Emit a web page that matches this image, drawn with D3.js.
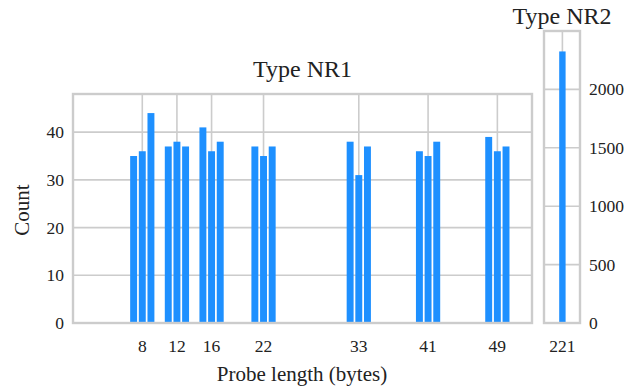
<!DOCTYPE html>
<html>
<head>
<meta charset="utf-8">
<script src="https://cdn.jsdelivr.net/npm/d3@7"></script>
<style>
  body { margin: 0; background: #fff; }
</style>
</head>
<body>
<script>
// probe lengths (bytes) and counts, three bars around each labelled length
const nr1Lengths = [7, 8, 9, 11, 12, 13, 15, 16, 17, 21, 22, 23, 32, 33, 34, 40, 41, 42, 48, 49, 50];
const nr1Counts = [35, 36, 44, 37, 38, 37, 41, 36, 38, 37, 35, 37, 38, 31, 37, 36, 35, 38, 39, 36, 37];
const nr1Ticks = [8, 12, 16, 22, 33, 41, 49];
const nr1YTicks = [0, 10, 20, 30, 40];

const nr2Lengths = [221];
const nr2Counts = [2325];
const nr2Ticks = [221];
const nr2YTicks = [0, 500, 1000, 1500, 2000];

const W = 640, H = 387;
const BAR = "#1e90ff", GRID = "#cccccc";
const FONT = "'Liberation Serif', 'DejaVu Serif', serif";

const svg = d3.select("body").append("svg")
    .attr("width", W)
    .attr("height", H)
    .attr("font-family", FONT);

function panel(opts) {
    const x = d3.scaleLinear().domain(opts.xDomain).range([opts.left, opts.right]);
    const y = d3.scaleLinear().domain(opts.yDomain).range([opts.bottom, opts.top]);
    const g = svg.append("g");

    // grid
    g.selectAll("line.hg").data(opts.yTicks).enter().append("line")
        .attr("x1", opts.left).attr("x2", opts.right)
        .attr("y1", d => y(d)).attr("y2", d => y(d))
        .attr("stroke", GRID).attr("stroke-width", 1.6);
    g.selectAll("line.vg").data(opts.xTicks).enter().append("line")
        .attr("x1", d => x(d)).attr("x2", d => x(d))
        .attr("y1", opts.top).attr("y2", opts.bottom)
        .attr("stroke", GRID).attr("stroke-width", 1.6);

    // bars
    const bw = 0.8;
    g.selectAll("rect.bar").data(opts.xs).enter().append("rect")
        .attr("x", d => x(d - bw / 2))
        .attr("width", x(bw) - x(0))
        .attr("y", (d, i) => y(opts.ys[i]))
        .attr("height", (d, i) => y(0) - y(opts.ys[i]))
        .attr("fill", BAR);

    // frame
    g.append("rect")
        .attr("x", opts.left).attr("y", opts.top)
        .attr("width", opts.right - opts.left).attr("height", opts.bottom - opts.top)
        .attr("fill", "none").attr("stroke", GRID).attr("stroke-width", 2.4);

    // x tick labels
    g.selectAll("text.xt").data(opts.xTicks).enter().append("text")
        .attr("x", d => x(d)).attr("y", 352)
        .attr("text-anchor", "middle").attr("font-size", 17.5)
        .attr("fill", "#222")
        .text(d => d);

    // y tick labels
    g.selectAll("text.yt").data(opts.yTicks).enter().append("text")
        .attr("x", opts.yLabelX).attr("y", d => y(d) + 6)
        .attr("text-anchor", opts.yAnchor).attr("font-size", 17.5)
        .attr("fill", "#222")
        .text(d => d);

    g.append("text")
        .attr("x", (opts.left + opts.right) / 2).attr("y", opts.titleY)
        .attr("text-anchor", "middle").attr("font-size", 24)
        .attr("fill", "#222")
        .text(opts.title);
}

panel({
    left: 73, right: 532, top: 94, bottom: 323,
    xDomain: [0, 53], yDomain: [0, 48],
    xs: nr1Lengths, ys: nr1Counts,
    xTicks: nr1Ticks, yTicks: nr1YTicks,
    yLabelX: 64, yAnchor: "end",
    title: "Type NR1", titleY: 77
});

panel({
    left: 544, right: 580, top: 31, bottom: 323,
    xDomain: [218.7, 223.2], yDomain: [0, 2500],
    xs: nr2Lengths, ys: nr2Counts,
    xTicks: nr2Ticks, yTicks: nr2YTicks,
    yLabelX: 589, yAnchor: "start",
    title: "Type NR2", titleY: 24
});

svg.append("text")
    .attr("x", 302).attr("y", 381)
    .attr("text-anchor", "middle").attr("font-size", 21)
    .attr("fill", "#222")
    .text("Probe length (bytes)");

svg.append("text")
    .attr("transform", "translate(29,210) rotate(-90)")
    .attr("text-anchor", "middle").attr("font-size", 21)
    .attr("fill", "#222")
    .text("Count");
</script>
</body>
</html>
